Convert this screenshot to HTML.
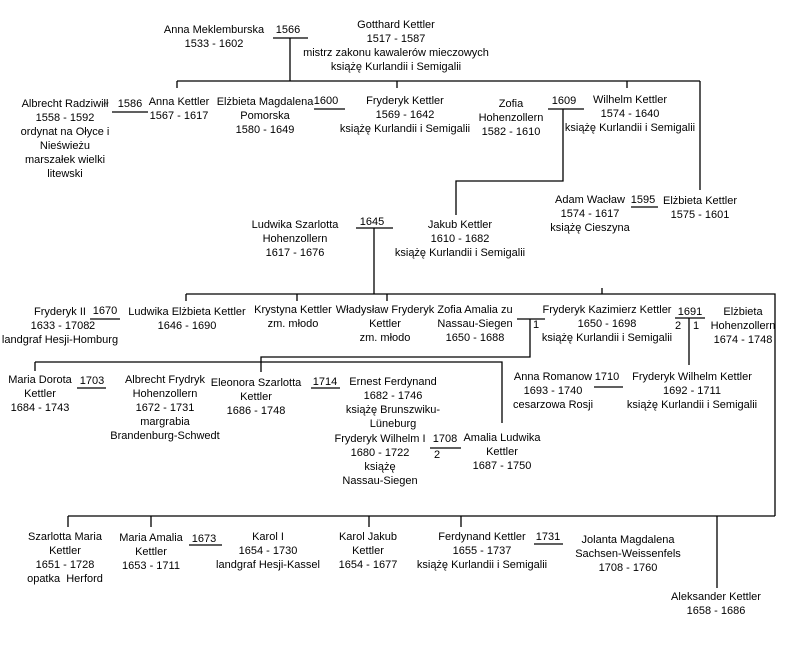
<!DOCTYPE html>
<html><head><meta charset="utf-8"><style>
body{margin:0;background:#fff;}
#c{position:relative;width:785px;height:657px;overflow:hidden;font-family:"Liberation Sans",Arial,sans-serif;font-size:11px;line-height:14px;color:#000;}
.t{position:absolute;width:240px;text-align:center;white-space:nowrap;}
svg{position:absolute;left:0;top:0;}
</style></head><body><div id="c">
<svg width="785" height="657" stroke="#000" stroke-width="1.3" fill="none">
<path d="M273 38H308M290 38V81M177 81H700M177 81V88M397 81V88M627 81V88M700 81V190"/>
<path d="M112 112H148M314 109H345M548 109H584M563 109V181H456V215M631 207H658"/>
<path d="M356 228H393M374 228V294M186 294H775V516M186 294V301M297 294V301M387 294V301M602 288V294"/>
<path d="M517 319H545M530 319V357H261V372M35 362H502V423M35 362V371"/>
<path d="M675 318H705M689 318V365M594 387H623M77 388H106M311 388H340M430 448H461M90 319H120"/>
<path d="M68 516H775M68 516V527M151 516V527M369 516V527M461 516V527M717 516V588M189 545H222M534 544H563"/>
</svg>
<div class="t" style="left:94px;top:23px">Anna Meklemburska<br>1533 - 1602</div>
<div class="t" style="left:168px;top:23px">1566</div>
<div class="t" style="left:276px;top:18px">Gotthard Kettler<br>1517 - 1587<br>mistrz zakonu kawalerów mieczowych<br>książę Kurlandii i Semigalii</div>
<div class="t" style="left:-55px;top:97px">Albrecht Radziwiłł<br>1558 - 1592<br>ordynat na Ołyce i<br>Nieświeżu<br>marszałek wielki<br>litewski</div>
<div class="t" style="left:10px;top:97px">1586</div>
<div class="t" style="left:59px;top:95px">Anna Kettler<br>1567 - 1617</div>
<div class="t" style="left:145px;top:95px">Elżbieta Magdalena<br>Pomorska<br>1580 - 1649</div>
<div class="t" style="left:206px;top:94px">1600</div>
<div class="t" style="left:285px;top:94px">Fryderyk Kettler<br>1569 - 1642<br>książę Kurlandii i Semigalii</div>
<div class="t" style="left:391px;top:97px">Zofia<br>Hohenzollern<br>1582 - 1610</div>
<div class="t" style="left:444px;top:94px">1609</div>
<div class="t" style="left:510px;top:93px">Wilhelm Kettler<br>1574 - 1640<br>książę Kurlandii i Semigalii</div>
<div class="t" style="left:470px;top:193px">Adam Wacław<br>1574 - 1617<br>książę Cieszyna</div>
<div class="t" style="left:523px;top:193px">1595</div>
<div class="t" style="left:580px;top:194px">Elżbieta Kettler<br>1575 - 1601</div>
<div class="t" style="left:175px;top:218px">Ludwika Szarlotta<br>Hohenzollern<br>1617 - 1676</div>
<div class="t" style="left:252px;top:215px">1645</div>
<div class="t" style="left:340px;top:218px">Jakub Kettler<br>1610 - 1682<br>książę Kurlandii i Semigalii</div>
<div class="t" style="left:-60px;top:305px">Fryderyk II<br>1633 - 1708<br>landgraf Hesji-Homburg</div>
<div class="t" style="left:-15px;top:304px">1670</div>
<div class="t" style="left:-28px;top:319px">2</div>
<div class="t" style="left:67px;top:305px">Ludwika Elżbieta Kettler<br>1646 - 1690</div>
<div class="t" style="left:173px;top:303px">Krystyna Kettler<br>zm. młodo</div>
<div class="t" style="left:265px;top:303px">Władysław Fryderyk<br>Kettler<br>zm. młodo</div>
<div class="t" style="left:355px;top:303px">Zofia Amalia zu<br>Nassau-Siegen<br>1650 - 1688</div>
<div class="t" style="left:416px;top:318px">1</div>
<div class="t" style="left:487px;top:303px">Fryderyk Kazimierz Kettler<br>1650 - 1698<br>książę Kurlandii i Semigalii</div>
<div class="t" style="left:570px;top:305px">1691</div>
<div class="t" style="left:558px;top:319px">2</div>
<div class="t" style="left:576px;top:319px">1</div>
<div class="t" style="left:623px;top:305px">Elżbieta<br>Hohenzollern<br>1674 - 1748</div>
<div class="t" style="left:-80px;top:373px">Maria Dorota<br>Kettler<br>1684 - 1743</div>
<div class="t" style="left:-28px;top:374px">1703</div>
<div class="t" style="left:45px;top:373px">Albrecht Frydryk<br>Hohenzollern<br>1672 - 1731<br>margrabia<br>Brandenburg-Schwedt</div>
<div class="t" style="left:136px;top:376px">Eleonora Szarlotta<br>Kettler<br>1686 - 1748</div>
<div class="t" style="left:205px;top:375px">1714</div>
<div class="t" style="left:273px;top:375px">Ernest Ferdynand<br>1682 - 1746<br>książę Brunszwiku-<br>Lüneburg</div>
<div class="t" style="left:260px;top:432px">Fryderyk Wilhelm I<br>1680 - 1722<br>książę<br>Nassau-Siegen</div>
<div class="t" style="left:325px;top:432px">1708</div>
<div class="t" style="left:317px;top:448px">2</div>
<div class="t" style="left:382px;top:431px">Amalia Ludwika<br>Kettler<br>1687 - 1750</div>
<div class="t" style="left:433px;top:370px">Anna Romanow<br>1693 - 1740<br>cesarzowa Rosji</div>
<div class="t" style="left:487px;top:370px">1710</div>
<div class="t" style="left:572px;top:370px">Fryderyk Wilhelm Kettler<br>1692 - 1711<br>książę Kurlandii i Semigalii</div>
<div class="t" style="left:-55px;top:530px">Szarlotta Maria<br>Kettler<br>1651 - 1728<br>opatka&nbsp; Herford</div>
<div class="t" style="left:31px;top:531px">Maria Amalia<br>Kettler<br>1653 - 1711</div>
<div class="t" style="left:84px;top:532px">1673</div>
<div class="t" style="left:148px;top:530px">Karol I<br>1654 - 1730<br>landgraf Hesji-Kassel</div>
<div class="t" style="left:248px;top:530px">Karol Jakub<br>Kettler<br>1654 - 1677</div>
<div class="t" style="left:362px;top:530px">Ferdynand Kettler<br>1655 - 1737<br>książę Kurlandii i Semigalii</div>
<div class="t" style="left:428px;top:530px">1731</div>
<div class="t" style="left:508px;top:533px">Jolanta Magdalena<br>Sachsen-Weissenfels<br>1708 - 1760</div>
<div class="t" style="left:596px;top:590px">Aleksander Kettler<br>1658 - 1686</div>
</div></body></html>
